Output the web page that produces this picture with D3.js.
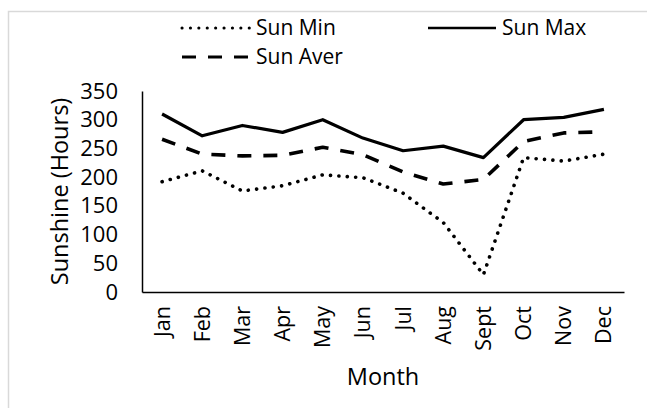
<!DOCTYPE html>
<html>
<head>
<meta charset="utf-8">
<script src="https://cdn.jsdelivr.net/npm/d3@7"></script>
<style>
  body { margin: 0; background: #fff; }
  text { font-family: "Open Sans", sans-serif; fill: #000; }
</style>
</head>
<body>
<div id="chart"></div>
<script>
const months = ["Jan", "Feb", "Mar", "Apr", "May", "Jun", "Jul", "Aug", "Sept", "Oct", "Nov", "Dec"];
const sunMin  = [192, 211, 176, 185, 204, 199, 172, 121, 30, 234, 228, 240];
const sunMax  = [310, 272, 290, 278, 300, 268, 246, 254, 234, 300, 304, 318];
const sunAver = [266, 240, 237, 238, 252, 239, 209, 188, 196, 262, 277, 279];
const yTicks  = [0, 50, 100, 150, 200, 250, 300, 350];

const W = 647, H = 408;
const margin = { top: 91, right: 23, bottom: 116, left: 142 };

const svg = d3.select("#chart").append("svg")
    .attr("width", W)
    .attr("height", H);

// outer chart frame (runs off the right and bottom edge)
svg.append("rect")
    .attr("x", 8.5).attr("y", 11.5)
    .attr("width", 700).attr("height", 500)
    .attr("fill", "none")
    .attr("stroke", "#d9d9d9")
    .attr("stroke-width", 1.5);

const x = d3.scaleBand()
    .domain(months)
    .range([margin.left, W - margin.right]);

const y = d3.scaleLinear()
    .domain([0, 350])
    .range([H - margin.bottom, margin.top]);

// y axis
const yAxis = svg.append("g")
    .attr("transform", `translate(${margin.left},0)`)
    .call(d3.axisLeft(y).tickValues(yTicks).tickSize(0).tickPadding(24));
yAxis.select(".domain").attr("stroke", "#000").attr("stroke-width", 1.5);
yAxis.selectAll("text")
    .style("font-family", "'Open Sans', sans-serif")
    .style("font-size", "22px")
    .attr("fill", "#000");

// x axis
const xAxis = svg.append("g")
    .attr("transform", `translate(0,${H - margin.bottom})`)
    .call(d3.axisBottom(x).tickSize(0).tickSizeOuter(0));
xAxis.select(".domain").attr("stroke", "#000").attr("stroke-width", 1.5);
xAxis.selectAll("text")
    .style("font-family", "'Open Sans', sans-serif")
    .style("font-size", "21.5px")
    .attr("fill", "#000")
    .attr("text-anchor", "end")
    .attr("y", 0)
    .attr("dy", "0.35em")
    .attr("transform", "translate(0,14) rotate(-90)");

// axis titles
svg.append("text")
    .attr("transform", `translate(60,${(margin.top + H - margin.bottom) / 2}) rotate(-90)`)
    .attr("text-anchor", "middle")
    .attr("dy", "0.35em")
    .style("font-size", "23.5px")
    .text("Sunshine (Hours)");

svg.append("text")
    .attr("x", (margin.left + W - margin.right) / 2)
    .attr("y", 377)
    .attr("text-anchor", "middle")
    .attr("dy", "0.35em")
    .style("font-size", "23.5px")
    .text("Month");

// series
const series = [
  { name: "Sun Min",  values: sunMin,  width: 3.6, dash: "0.1,8.3", cap: "round" },
  { name: "Sun Max",  values: sunMax,  width: 3.2, dash: null,      cap: "butt" },
  { name: "Sun Aver", values: sunAver, width: 3.6, dash: "14,12",   cap: "butt" }
];

const line = d3.line()
    .x((d, i) => x(months[i]) + x.bandwidth() / 2)
    .y(d => y(d));

svg.selectAll(".series")
    .data(series)
    .enter()
    .append("path")
    .attr("class", "series")
    .attr("d", d => line(d.values))
    .attr("fill", "none")
    .attr("stroke", "#000")
    .attr("stroke-width", d => d.width)
    .attr("stroke-dasharray", d => d.dash)
    .attr("stroke-linecap", d => d.cap)
    .attr("stroke-linejoin", "round");

// legend
const legendPos = [
  { x: 182, y: 28 },
  { x: 428, y: 28 },
  { x: 182, y: 57 }
];

const legend = svg.selectAll(".legend")
    .data(series)
    .enter()
    .append("g")
    .attr("class", "legend")
    .attr("transform", (d, i) => `translate(${legendPos[i].x},${legendPos[i].y})`);

legend.append("line")
    .attr("x1", 0).attr("x2", 68)
    .attr("stroke", "#000")
    .attr("stroke-width", d => d.width * 0.85)
    .attr("stroke-dasharray", d => d.dash)
    .attr("stroke-linecap", d => d.cap);

legend.append("text")
    .attr("x", 74)
    .attr("dy", "0.35em")
    .style("font-size", "21px")
    .text(d => d.name);
</script>
</body>
</html>
